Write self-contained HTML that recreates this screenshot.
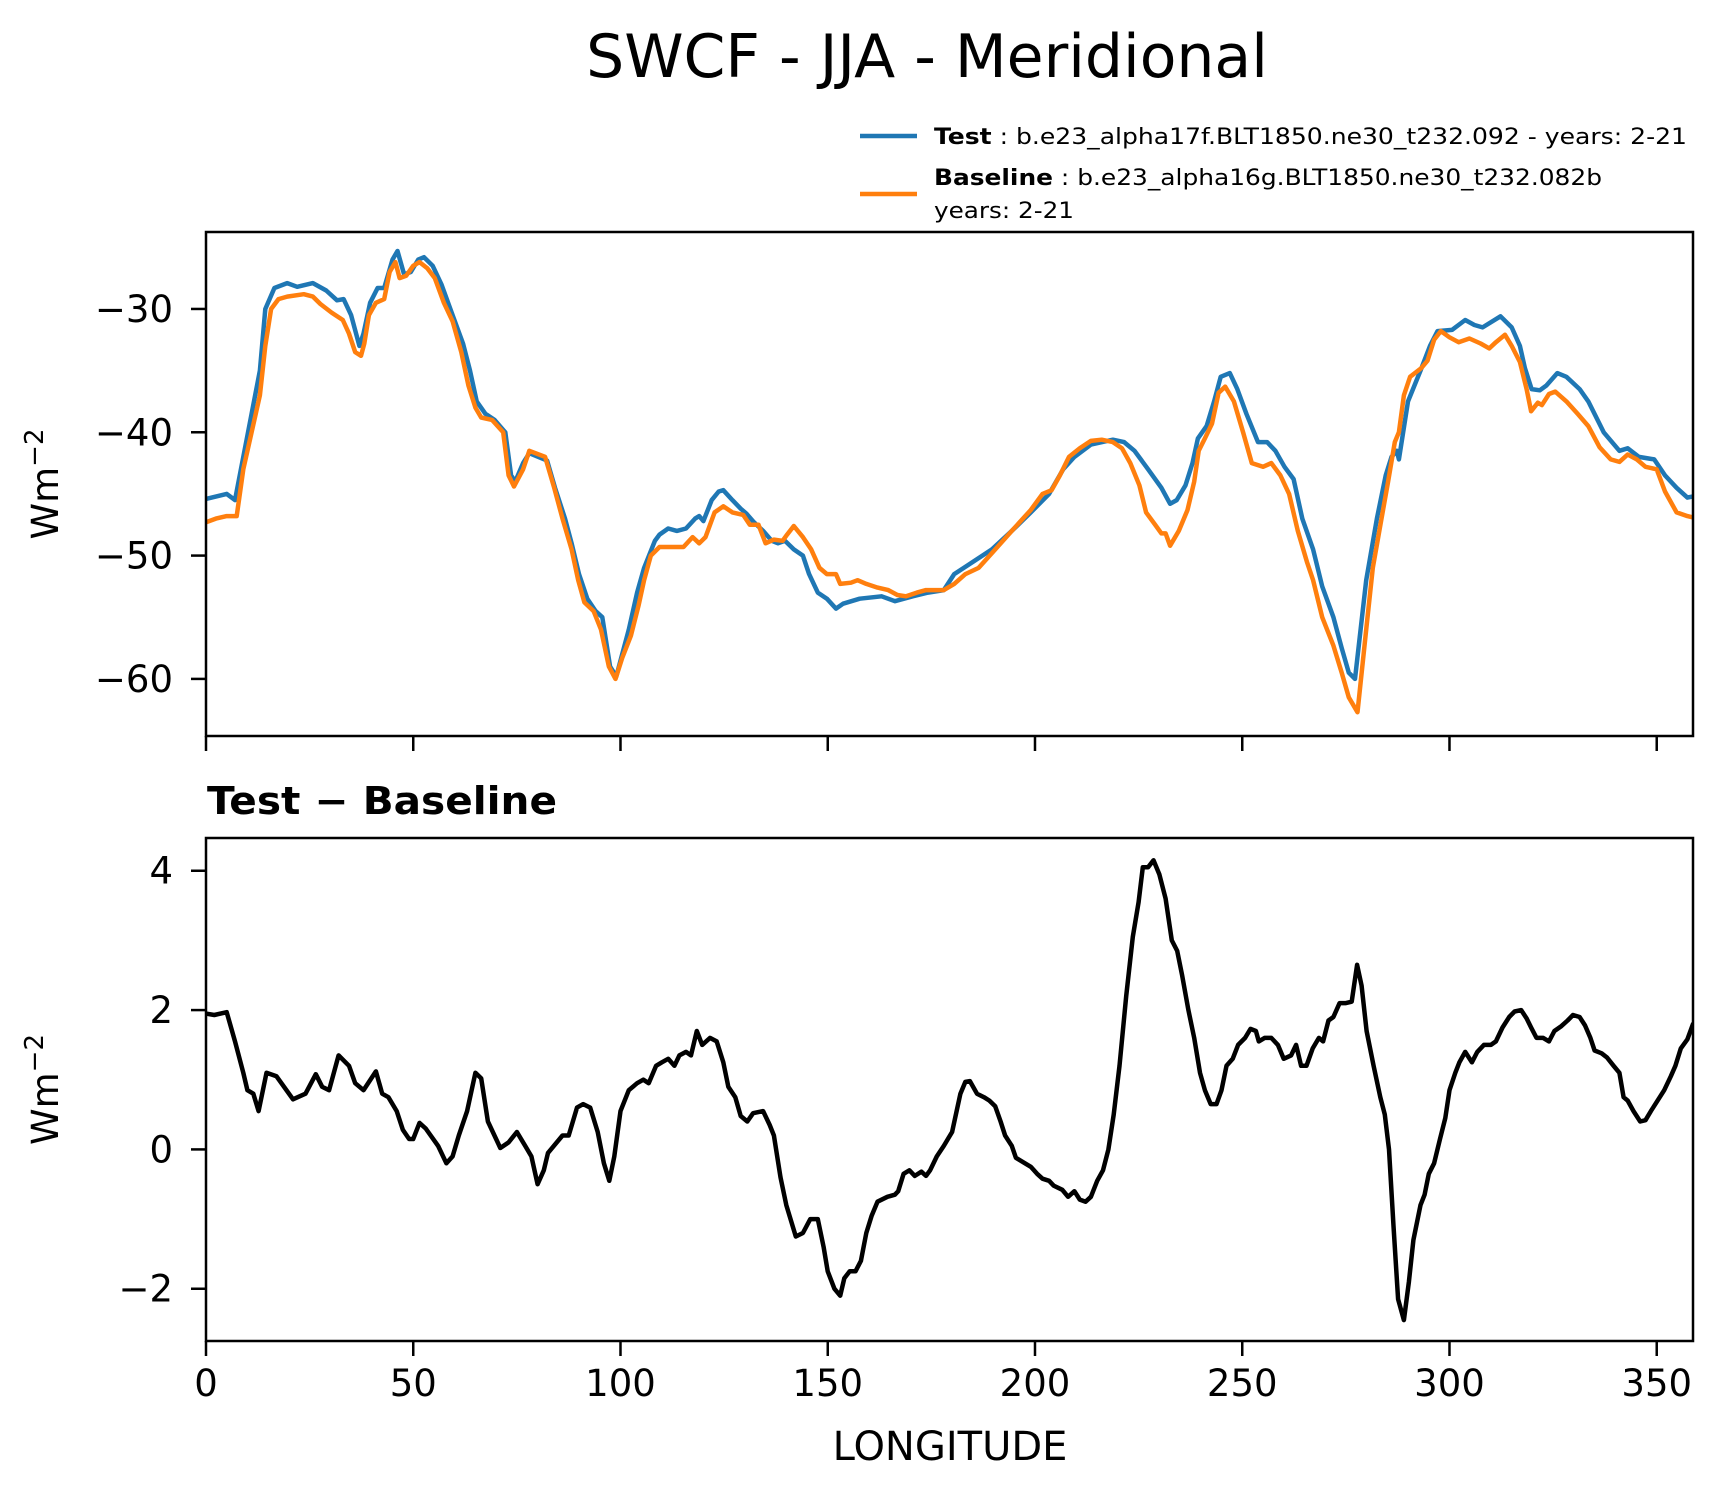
<!DOCTYPE html>
<html><head><meta charset="utf-8">
<style>
html,body{margin:0;padding:0;background:#fff;}
svg{display:block;font-family:"DejaVu Sans","Liberation Sans",sans-serif;}
</style></head>
<body>
<svg id="chart" width="1726" height="1496" viewBox="0 0 1726 1496" xmlns="http://www.w3.org/2000/svg">
<rect width="1726" height="1496" fill="#fff"/>
<text x="927" y="77" font-size="60" text-anchor="middle" fill="#000">SWCF - JJA - Meridional</text>
<g>
  <line x1="860" y1="136" x2="917" y2="136" stroke="#1f77b4" stroke-width="4.5"/>
  <text x="934" y="144" font-size="22" textLength="753" lengthAdjust="spacingAndGlyphs"><tspan font-weight="bold">Test</tspan> : b.e23_alpha17f.BLT1850.ne30_t232.092 - years: 2-21</text>
  <line x1="860" y1="194" x2="917" y2="194" stroke="#ff7f0e" stroke-width="4.5"/>
  <text x="934" y="185" font-size="22" textLength="668" lengthAdjust="spacingAndGlyphs"><tspan font-weight="bold">Baseline</tspan> : b.e23_alpha16g.BLT1850.ne30_t232.082b</text>
  <text x="934" y="218" font-size="22" textLength="140" lengthAdjust="spacingAndGlyphs">years: 2-21</text>
</g>
<g id="top"></g>
<text x="207" y="814" font-size="38" font-weight="bold" textLength="350" lengthAdjust="spacingAndGlyphs">Test − Baseline</text>
<g id="bot"></g>
<text x="950" y="1460" font-size="40" text-anchor="middle">LONGITUDE</text>
</svg>
<script>
const testLon=[0,5,7,11,13,14.3,16.5,19.6,22,25.8,29,31.6,33.2,35,37,38,39.6,41.4,43,45,46.2,47.8,49.4,51.2,52.6,54.7,56.8,59.5,62,63.7,65.3,67.4,69.6,72.2,73.6,74.6,76.5,78,82.3,84.2,86.6,88.2,90,92,94,95.6,97.5,99,100.4,102,104,105.7,108.3,109.4,111.5,113.6,115.8,118,119,120,122,123.7,124.8,127,129,130.4,132.2,134.4,136.5,138,139.7,141.8,144,145.5,147.6,149.8,152,153.7,157.7,163,166.2,170.5,174.2,178,180.5,183.7,189.6,194.4,199,203.4,206.8,209.5,213.5,218.8,221.5,224,227.3,230.5,232.6,234.2,236.3,238,239.3,241.4,243.2,244.8,247,248.8,251,253.8,256,258,260.2,262.4,264.5,267.1,269.3,272,274,275.7,277.2,279.9,282.5,284.6,286,287.3,287.8,290,293,295.3,297.1,300.6,303.8,306,308,312.3,315,317,318.2,319.8,321.8,323.4,326,328.2,331.4,333.5,337.2,341,343,345.7,349.4,352,354.8,357.4,358.75];
const testVal=[-45.4,-45,-45.5,-38.5,-35,-30,-28.3,-27.9,-28.2,-27.9,-28.5,-29.3,-29.2,-30.5,-33,-32,-29.5,-28.3,-28.3,-26,-25.3,-27.2,-27,-26,-25.8,-26.5,-28,-30.5,-32.8,-35,-37.5,-38.5,-39,-40,-43.5,-44,-42.5,-41.7,-42.3,-44.5,-47,-49,-51.5,-53.5,-54.5,-55,-59,-59.8,-58,-56,-53,-51,-48.8,-48.3,-47.8,-48,-47.8,-47,-46.8,-47.2,-45.5,-44.8,-44.7,-45.5,-46.2,-46.6,-47.3,-48,-48.8,-49,-48.8,-49.5,-50,-51.5,-53,-53.5,-54.3,-53.9,-53.5,-53.3,-53.7,-53.3,-53,-52.8,-51.5,-50.8,-49.5,-48,-46.5,-45,-43,-42,-41,-40.6,-40.8,-41.5,-43,-44.5,-45.8,-45.5,-44.3,-42.5,-40.5,-39.5,-37.5,-35.5,-35.2,-36.5,-38.5,-40.8,-40.8,-41.5,-42.8,-43.8,-47,-49.5,-52.5,-55,-57.5,-59.5,-60,-52,-47,-43.5,-42,-41.5,-42.2,-37.5,-35,-33,-31.8,-31.7,-30.9,-31.3,-31.5,-30.6,-31.5,-33,-34.8,-36.5,-36.6,-36.2,-35.2,-35.5,-36.5,-37.5,-40,-41.5,-41.3,-42,-42.2,-43.5,-44.5,-45.3,-45.2];
const baseLon=[0,2.4,5,7.4,9,11,13,14.3,15.7,17.5,19.6,23.6,25.8,27.6,30.3,33,34.5,36,37.4,38.2,39.3,41,43,44.3,45.7,46.7,48.3,50,51.5,53.4,55.2,57.4,59.5,61.6,63.3,65,66.4,69,71.7,73,74.3,76.5,78,81.8,84,86,88.2,89.8,91.3,93.5,95.3,97.2,98.8,100.4,102.5,104.4,105.7,107.3,109.4,115.2,117.4,119,120.5,122.7,124.8,127,129.6,131.2,133.3,135,137,139.1,140.2,141.8,144,146,148,149.8,152,153,155.6,157.2,159.3,162,164.6,166.8,168.9,171.5,173.7,178,180.5,183.2,186.4,189.6,194.4,199,201.8,204,206,208.2,210.8,213.5,216.1,218.8,221,223,225.2,226.8,229,230.5,231.5,232.6,234.7,236.8,238.4,239.5,241,242.7,244.3,245.9,248,250.2,252.3,255,257,259.2,261.3,263.4,265.6,267.1,269.3,272,274,275.7,277.8,279.9,281.5,283.6,285.2,286.8,287.8,289,290.5,293.2,294.7,296.3,297.9,300,302.2,304.8,307.5,309.6,311.2,313.4,315,317,318.6,319.7,321.3,322.3,324,325.5,328.2,330.9,333.5,336.2,338.9,341,343,345.2,347.3,350,352,354.8,357.4,358.75];
const baseVal=[-47.3,-47,-46.8,-46.8,-43,-40,-37,-33,-30,-29.2,-29,-28.8,-29,-29.6,-30.3,-30.9,-32,-33.5,-33.8,-32.8,-30.5,-29.5,-29.2,-27,-26.2,-27.5,-27.3,-26.5,-26.2,-26.7,-27.5,-29.5,-31,-33.5,-36.2,-38,-38.8,-39,-40,-43.5,-44.4,-43,-41.5,-42,-44.5,-47,-49.5,-52,-53.8,-54.5,-56,-59,-60,-58.3,-56.5,-54,-52,-50,-49.3,-49.3,-48.5,-49,-48.5,-46.5,-46,-46.5,-46.7,-47.5,-47.5,-49,-48.7,-48.8,-48.3,-47.6,-48.5,-49.5,-51,-51.5,-51.5,-52.3,-52.2,-52,-52.3,-52.6,-52.8,-53.2,-53.3,-53,-52.8,-52.8,-52.3,-51.5,-51,-49.8,-48,-46.3,-45,-44.7,-43.5,-42,-41.3,-40.7,-40.6,-40.8,-41.3,-42.5,-44.3,-46.5,-47.5,-48.2,-48.2,-49.2,-48,-46.3,-44,-41.5,-40.5,-39.3,-36.8,-36.3,-37.5,-40,-42.5,-42.8,-42.5,-43.5,-45,-48,-50.5,-52,-55,-57.3,-59.5,-61.5,-62.7,-56,-51,-47,-44,-40.8,-40,-37,-35.5,-34.8,-34.2,-32.5,-31.8,-32.3,-32.7,-32.4,-32.8,-33.2,-32.7,-32.1,-33,-34.3,-36.5,-38.3,-37.6,-37.8,-36.9,-36.7,-37.5,-38.5,-39.5,-41.2,-42.2,-42.4,-41.8,-42.2,-42.8,-43,-44.8,-46.5,-46.8,-46.9];
const diffLon=[0,2,5,7,9,10,11.4,12.7,14.6,17,21,24,26.5,28,29.7,32,34.5,36,38,41,42.5,44,46,47.5,49,50,51.5,53,56,58,59.5,61,63,65,66.4,68,70,71,73,75,77,78.5,80,81.5,82.5,86,87.5,89.5,91,92.7,94.5,96,97.3,98.5,100,102,104,105.5,106.8,108.6,110,111.5,113,114.2,115.8,117,118.4,119.7,121.6,123.2,124.8,126,127.7,129,130.6,132,134.4,136,137,138.6,140,142.3,144,145.8,147.6,149,150,151.6,153,154,155.3,156.7,158,159.3,160.6,162,164.4,166.2,167,168.3,169.7,171,172.6,173.7,174.7,176.3,178,179,180,182,183.2,184.3,186,187.7,189,190.4,191.7,192.8,194.4,195.4,197.6,199,200.5,201.8,203.4,204.5,206.6,208,209.5,210.8,212.2,213.5,215,216.4,217.7,219,220.4,222,223.6,225,226,227.3,228.6,230,231.5,233,234.3,235.5,237,238.4,239.8,241,242.4,243.8,245,246.2,247.7,249,250.7,252,253.3,254,255.4,257,258.6,260,261.8,263,264.2,265.5,267,268.5,269.5,270.8,272,273.5,275,276.4,277.7,278.8,280,281.7,283.3,284.4,285.4,286.5,287.6,289,290.2,291.3,293,294,295,296.3,297.7,299,300,301.4,302.4,303.8,305.4,306.7,308.3,310,311.2,312.8,314.4,315.7,317.3,318.6,319.7,321,322.6,324,325.3,327,328.5,329.8,331.4,332.7,334,335,336.7,338,339.6,341,342,343,344.4,346,347.3,348.6,350.2,351.8,353.4,354.5,355.8,357.4,358.75];
const diffVal=[1.95,1.93,1.97,1.55,1.1,0.85,0.8,0.55,1.1,1.05,0.72,0.8,1.08,0.9,0.85,1.35,1.2,0.95,0.85,1.12,0.8,0.75,0.55,0.28,0.15,0.15,0.38,0.3,0.05,-0.2,-0.1,0.2,0.55,1.1,1.02,0.4,0.15,0.02,0.1,0.25,0.05,-0.1,-0.5,-0.3,-0.05,0.2,0.2,0.6,0.65,0.6,0.25,-0.2,-0.45,-0.1,0.55,0.85,0.95,1.0,0.95,1.2,1.25,1.3,1.2,1.35,1.4,1.35,1.7,1.5,1.6,1.55,1.25,0.9,0.75,0.48,0.4,0.52,0.55,0.35,0.2,-0.4,-0.8,-1.25,-1.2,-1.0,-1.0,-1.4,-1.75,-2.0,-2.1,-1.85,-1.75,-1.75,-1.6,-1.2,-0.95,-0.75,-0.68,-0.65,-0.6,-0.35,-0.3,-0.38,-0.32,-0.38,-0.3,-0.1,0.05,0.15,0.25,0.8,0.97,0.98,0.8,0.75,0.7,0.62,0.4,0.2,0.05,-0.12,-0.2,-0.25,-0.35,-0.42,-0.45,-0.52,-0.58,-0.68,-0.6,-0.72,-0.75,-0.68,-0.45,-0.3,0.0,0.5,1.2,2.2,3.05,3.55,4.05,4.05,4.15,3.95,3.6,3.0,2.85,2.5,2.0,1.6,1.1,0.85,0.65,0.65,0.85,1.2,1.3,1.5,1.6,1.73,1.7,1.55,1.6,1.6,1.5,1.3,1.35,1.5,1.2,1.2,1.45,1.6,1.55,1.85,1.9,2.1,2.1,2.12,2.65,2.35,1.7,1.2,0.75,0.5,0.0,-1.1,-2.15,-2.45,-1.9,-1.3,-0.8,-0.65,-0.35,-0.2,0.15,0.45,0.85,1.1,1.25,1.4,1.25,1.4,1.5,1.5,1.55,1.75,1.9,1.98,2.0,1.88,1.75,1.6,1.6,1.55,1.7,1.77,1.85,1.93,1.9,1.78,1.6,1.42,1.38,1.32,1.2,1.1,0.75,0.7,0.55,0.4,0.42,0.55,0.7,0.85,1.05,1.2,1.45,1.58,1.8];
const xTicks=[0,50,100,150,200,250,300,350];
const topYTicks=[-30,-40,-50,-60];
const botYTicks=[4,2,0,-2];

const NS='http://www.w3.org/2000/svg';
const X0=206,X1=1693,XMIN=0,XMAX=358.75;
function xs(v){return X0+(v-XMIN)/(XMAX-XMIN)*(X1-X0);}
const TOP={y0:232,y1:736,vmin:-64.63,vmax:-23.76};
const BOT={y0:838,y1:1341,vmin:-2.75,vmax:4.47};
function ys(ax,v){return ax.y1-(v-ax.vmin)/(ax.vmax-ax.vmin)*(ax.y1-ax.y0);}
function mk(tag,attrs,parent){const e=document.createElementNS(NS,tag);for(const k in attrs)e.setAttribute(k,attrs[k]);parent.appendChild(e);return e;}

function drawAxes(g,ax,yTicks,showXLabels,yLabelName){
  const cy=(ax.y0+ax.y1)/2;
  for(const t of yTicks){
    const y=ys(ax,t);
    const tk=mk('line',{x1:X0-15,x2:X0,y1:y,y2:y,stroke:'#000','stroke-width':2.5},g);
    
    
    const lb=mk('text',{x:X0-33,y:y+13,'font-size':37,'text-anchor':'end'},g);
    lb.textContent=t<0?'\u2212'+Math.abs(t):String(t);
    
    
  }
  for(const t of xTicks){
    const x=xs(t);
    const tk=mk('line',{x1:x,x2:x,y1:ax.y1,y2:ax.y1+15,stroke:'#000','stroke-width':2.5},g);
    
    
    if(showXLabels){
      const lb=mk('text',{x:x,y:ax.y1+55,'font-size':37,'text-anchor':'middle'},g);
      lb.textContent=String(t);
      
      
    }
  }
  const yl=mk('text',{x:0,y:0,'font-size':37,'text-anchor':'middle',transform:`translate(58,${cy}) rotate(-90)`},g);
  yl.innerHTML='Wm<tspan dy="-15" font-size="26">\u22122</tspan>';
  
  
}
function drawLine(g,ax,lons,vals,color,name){
  let d='';
  for(let i=0;i<lons.length;i++){d+=(i?'L':'M')+xs(lons[i]).toFixed(1)+','+ys(ax,vals[i]).toFixed(1);}
  const p=mk('path',{d:d,fill:'none',stroke:color,'stroke-width':4.5,'stroke-linejoin':'round','stroke-linecap':'round'},g);
  
  
}
function frame(g,ax){
  const r=mk('rect',{x:X0,y:ax.y0,width:X1-X0,height:ax.y1-ax.y0,fill:'none',stroke:'#000','stroke-width':2.5},g);
  
  
}
const gt=document.getElementById('top');
const cp1=mk('clipPath',{id:'c1'},gt);mk('rect',{x:X0,y:TOP.y0,width:X1-X0,height:TOP.y1-TOP.y0},cp1);
const l1=mk('g',{'clip-path':'url(#c1)'},gt);
drawLine(l1,TOP,testLon,testVal,'#1f77b4','test-series-line');
drawLine(l1,TOP,baseLon,baseVal,'#ff7f0e','baseline-series-line');
frame(gt,TOP);drawAxes(gt,TOP,topYTicks,false,'top-y-axis-title');
const gb=document.getElementById('bot');
const cp2=mk('clipPath',{id:'c2'},gb);mk('rect',{x:X0,y:BOT.y0,width:X1-X0,height:BOT.y1-BOT.y0},cp2);
const l2=mk('g',{'clip-path':'url(#c2)'},gb);
drawLine(l2,BOT,diffLon,diffVal,'#000','difference-series-line');
frame(gb,BOT);drawAxes(gb,BOT,botYTicks,true,'bottom-y-axis-title');
</script>
</body></html>
